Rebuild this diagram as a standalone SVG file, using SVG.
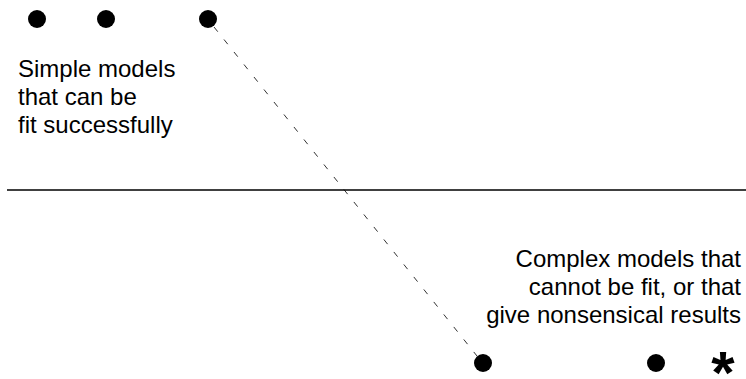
<svg xmlns="http://www.w3.org/2000/svg" width="746" height="379" viewBox="0 0 746 379">
<style>
.dot{fill:#000}
.lbl{font-family:"Liberation Sans",Arial,sans-serif;font-size:24px;fill:#000}
.r{text-anchor:end}
.dash{stroke:#333;stroke-width:1;stroke-dasharray:6 10;fill:none}
.rule{stroke:#000;stroke-width:1.5}
</style>
<rect width="746" height="379" fill="#fff"/>
<g id="connectors">
<line class="dash" x1="214" y1="27" x2="477" y2="356"/>
</g>
<g id="divider"><line class="rule" x1="7" y1="190" x2="746" y2="190"/></g>
<g id="simple">
<circle class="dot" cx="37" cy="19" r="9"/>
<circle class="dot" cx="106" cy="19" r="9"/>
<circle class="dot" cx="208" cy="19" r="9"/>
<text class="lbl" x="18" y="77">Simple models</text>
<text class="lbl" x="18" y="105">that can be</text>
<text class="lbl" x="18" y="133">fit successfully</text>
</g>
<g id="complex">
<circle class="dot" cx="483" cy="363" r="9"/>
<circle class="dot" cx="656" cy="363" r="9"/>
<text x="723" y="393" font-family="Liberation Sans,Arial,sans-serif" font-size="60" font-weight="bold" text-anchor="middle">*</text>
<text class="lbl r" x="741" y="267">Complex models that</text>
<text class="lbl r" x="741" y="295">cannot be fit, or that</text>
<text class="lbl r" x="741" y="323">give nonsensical results</text>
</g>
</svg>
